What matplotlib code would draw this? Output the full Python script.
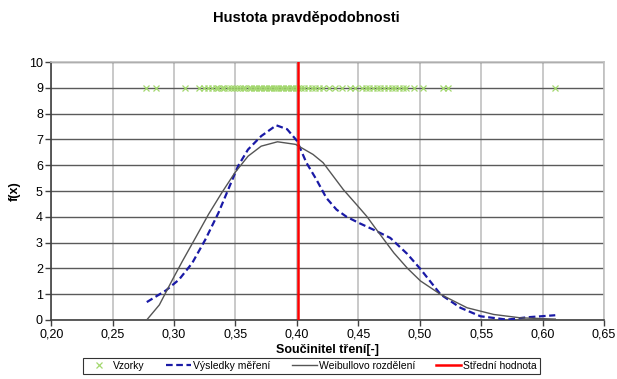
import matplotlib
matplotlib.use("Agg")
import matplotlib.pyplot as plt
from matplotlib.ticker import FixedLocator, FuncFormatter

plt.rcParams["font.family"] = ["Liberation Sans", "DejaVu Sans"]

# samples (Vzorky), drawn at f(x) = 9
samples = [0.277, 0.285, 0.309, 0.320, 0.324, 0.328, 0.331, 0.334, 0.336, 0.339,
           0.341, 0.344, 0.346, 0.349, 0.351, 0.354, 0.356, 0.358, 0.361, 0.363,
           0.365, 0.367, 0.369, 0.371, 0.373, 0.375, 0.377, 0.379, 0.381, 0.383,
           0.385, 0.387, 0.389, 0.391, 0.393, 0.395, 0.397, 0.399, 0.401, 0.403,
           0.406, 0.409, 0.412, 0.415, 0.418, 0.421, 0.426, 0.431, 0.437, 0.443,
           0.447, 0.453, 0.456, 0.459, 0.462, 0.465, 0.468, 0.471, 0.474, 0.477,
           0.480, 0.483, 0.486, 0.489, 0.495, 0.503, 0.519, 0.523, 0.610]
sample_level = 9

# measured density (Vysledky mereni)
meas_x = [0.2778, 0.2933, 0.304, 0.3147, 0.3254, 0.3361, 0.3441, 0.3521, 0.3602,
          0.3709, 0.3832, 0.392, 0.400, 0.4077, 0.4158, 0.424, 0.4322, 0.4404,
          0.4514, 0.4623, 0.476, 0.4898, 0.5006, 0.5169, 0.5331, 0.5494, 0.571,
          0.5873, 0.6103]
meas_y = [0.69, 1.14, 1.56, 2.2, 3.11, 4.15, 5.06, 5.97, 6.61,
          7.13, 7.55, 7.4, 6.95, 6.1, 5.45, 4.73, 4.28, 4.0,
          3.74, 3.5, 3.18, 2.56, 1.97, 0.99, 0.47, 0.14, 0.01,
          0.10, 0.18]

# Weibull fit (Weibullovo rozdeleni)
weib_x = [0.2778, 0.288, 0.2987, 0.3067, 0.3174, 0.3281, 0.3388, 0.3495, 0.3602,
          0.3709, 0.3842, 0.3989, 0.4131, 0.4213, 0.4295, 0.4377, 0.4486, 0.4568,
          0.4637, 0.4789, 0.490, 0.5006, 0.5169, 0.5385, 0.5602, 0.5818, 0.6103]
weib_y = [0.0, 0.58, 1.56, 2.27, 3.18, 4.1, 4.93, 5.71, 6.35,
          6.74, 6.91, 6.81, 6.42, 6.1, 5.58, 5.06, 4.47, 4.02,
          3.57, 2.6, 2.0, 1.51, 0.99, 0.47, 0.21, 0.08, 0.03]

mean_value = 0.401

fig = plt.figure(figsize=(6.17, 3.79), dpi=100)
ax = fig.add_axes([0.083, 0.156, 0.896, 0.680])

ax.plot(samples, [sample_level] * len(samples), linestyle="none", marker="x",
        color="#a3d86e", markersize=4, markeredgewidth=0.9, zorder=3,
        label="Vzorky")
ax.plot(meas_x, meas_y, color="#1a1aa6", linewidth=1.6, dashes=(3, 1.6),
        solid_joinstyle="round", zorder=4, label="Výsledky měření")
ax.plot(weib_x, weib_y, color="#555555", linewidth=1.0,
        solid_joinstyle="round", zorder=4, label="Weibullovo rozdělení")
ax.plot([mean_value, mean_value], [0, 10], color="#ff0000", linewidth=1.8,
        zorder=5, label="Střední hodnota")

ax.set_xlim(0.20, 0.65)
ax.set_ylim(0, 10)
ax.xaxis.set_major_locator(FixedLocator([0.20 + 0.05 * i for i in range(10)]))
ax.yaxis.set_major_locator(FixedLocator(range(11)))
ax.xaxis.set_major_formatter(FuncFormatter(lambda v, p: f"{v:.2f}".replace(".", ",")))

ax.set_axisbelow(True)
ax.xaxis.grid(True, color="#c0c0c0", linewidth=1.2)
ax.yaxis.grid(True, color="#5a5a5a", linewidth=1.0)
for s in ["top", "right"]:
    ax.spines[s].set_color("#c0c0c0")
    ax.spines[s].set_linewidth(1.2)
for s in ["left", "bottom"]:
    ax.spines[s].set_color("#404040")
    ax.spines[s].set_linewidth(1.2)
ax.tick_params(direction="out", length=4, width=1, color="#404040",
               labelsize=9, pad=2)

ax.set_xlabel("Součinitel tření[-]", fontsize=9, fontweight="bold", labelpad=3)
ax.set_ylabel("f(x)", fontsize=9, fontweight="bold", labelpad=6)
fig.text(0.497, 0.953, "Hustota pravděpodobnosti", ha="center", va="center",
         fontsize=10.5, fontweight="bold")

leg = fig.legend(loc="lower left", bbox_to_anchor=(0.1264, 0.0, 0.757, 0.05),
                 mode="expand", ncol=4, fontsize=7.5, frameon=True,
                 fancybox=False, edgecolor="black", handlelength=2.4,
                 handletextpad=0.2, columnspacing=1.4, borderpad=0.3)
leg.get_frame().set_linewidth(0.8)

fig.savefig("out.png", dpi=100)
